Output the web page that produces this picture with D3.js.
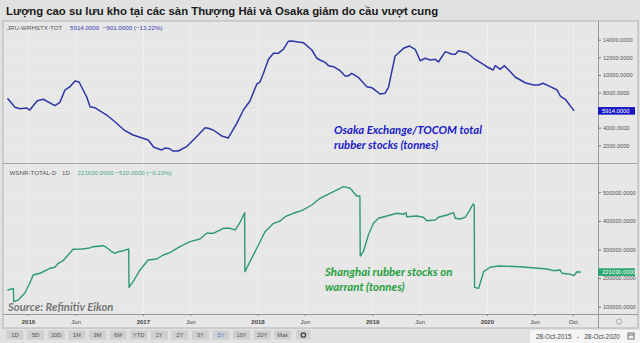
<!DOCTYPE html>
<html><head><meta charset="utf-8">
<script src="https://cdn.jsdelivr.net/npm/d3@7"></script>
<style>
html,body{margin:0;padding:0;background:#e1e1e1;}
svg{display:block;font-family:"Liberation Sans",Arial,sans-serif;}
</style></head><body>
<svg id="chart" width="640" height="343"></svg>
<script>
// Osaka Exchange / TOCOM total rubber stocks (tonnes)
const osakaDates = ["2015-10-28","2015-11-21","2015-12-07","2015-12-28","2016-01-07","2016-01-31","2016-02-19","2016-03-27","2016-04-12","2016-04-28","2016-05-14","2016-05-30","2016-06-12","2016-07-06","2016-07-17","2016-08-01","2016-09-08","2016-10-04","2016-11-05","2016-12-01","2017-01-18","2017-02-05","2017-03-02","2017-03-12","2017-03-28","2017-04-06","2017-04-24","2017-05-20","2017-06-21","2017-07-18","2017-07-28","2017-08-13","2017-09-09","2017-09-30","2017-10-27","2017-11-17","2017-12-08","2017-12-30","2018-01-09","2018-01-20","2018-02-05","2018-02-21","2018-03-08","2018-03-24","2018-04-09","2018-04-20","2018-05-27","2018-06-23","2018-07-09","2018-07-19","2018-08-04","2018-08-15","2018-08-31","2018-09-21","2018-10-07","2018-10-17","2018-10-28","2018-11-18","2018-12-15","2018-12-31","2019-01-10","2019-01-26","2019-02-11","2019-02-22","2019-03-15","2019-04-11","2019-04-30","2019-05-18","2019-06-03","2019-06-19","2019-07-05","2019-07-21","2019-07-31","2019-08-22","2019-09-12","2019-09-23","2019-10-03","2019-10-30","2019-11-20","2019-12-11","2020-01-01","2020-01-21","2020-01-28","2020-02-13","2020-02-26","2020-03-16","2020-04-01","2020-04-17","2020-05-02","2020-05-29","2020-06-14","2020-06-28","2020-07-21","2020-08-12","2020-08-22","2020-09-07","2020-10-05"];
const osakaValues = [7340,6320,6160,6240,6010,7070,7230,6500,6890,8280,8660,9310,9190,7520,6390,6270,5440,4680,3660,3170,2600,1770,1470,1690,1610,1350,1350,1840,2980,4000,3930,3740,3060,2830,4500,6010,7030,8970,9190,10180,11770,12450,12450,12910,13820,13850,13660,12830,11890,11690,11430,11050,10930,10480,9880,9880,10180,9730,8660,8550,8280,7830,7910,8590,12150,13020,13280,12910,11610,11890,11690,11770,11470,12640,12340,12340,12750,12520,11890,11430,10930,10560,11050,10640,11050,10360,9730,9420,9110,8850,8850,9050,8660,8280,7600,7230,5914];

// Shanghai rubber stocks on warrant (tonnes)
const shanghaiDates = ["2015-10-28","2015-11-13","2015-11-16","2015-11-17","2015-12-01","2015-12-22","2016-01-07","2016-01-18","2016-02-08","2016-03-01","2016-03-11","2016-03-27","2016-04-07","2016-04-22","2016-05-08","2016-05-24","2016-06-20","2016-07-11","2016-07-27","2016-08-28","2016-09-08","2016-09-24","2016-10-04","2016-10-15","2016-10-31","2016-11-17","2016-11-18","2016-12-01","2016-12-23","2017-01-18","2017-02-14","2017-03-07","2017-03-28","2017-04-29","2017-05-31","2017-07-02","2017-07-23","2017-08-13","2017-09-14","2017-10-06","2017-10-22","2017-11-06","2017-11-21","2017-11-22","2017-12-08","2018-01-04","2018-01-25","2018-02-21","2018-03-14","2018-03-30","2018-04-25","2018-05-22","2018-06-23","2018-07-19","2018-08-31","2018-10-02","2018-10-23","2018-11-13","2018-11-23","2018-11-24","2018-12-04","2018-12-20","2019-01-05","2019-01-21","2019-02-17","2019-03-21","2019-04-11","2019-04-19","2019-04-21","2019-05-23","2019-06-13","2019-06-24","2019-07-21","2019-07-31","2019-08-27","2019-09-17","2019-09-23","2019-10-08","2019-10-24","2019-11-07","2019-11-18","2019-11-22","2019-11-23","2019-12-06","2019-12-22","2020-01-12","2020-02-07","2020-04-17","2020-07-11","2020-08-01","2020-08-22","2020-08-27","2020-09-23","2020-10-04","2020-10-14","2020-10-27"];
const shanghaiValues = [158400,162900,162900,117500,123400,146900,181800,210800,216800,228300,234300,237800,251800,260800,280800,300700,301800,304200,309800,313300,306300,292300,286700,292300,295800,301800,167800,187400,228300,263300,266800,280800,288800,309800,327300,336700,356600,356600,374100,374100,368200,393700,428700,222400,257400,315700,362200,391600,399700,414700,426600,435700,455600,479000,502100,519600,514000,487100,487100,277300,292300,350700,391600,409100,417100,426600,423100,428700,414700,417100,412600,400700,403100,412600,420600,428700,409100,406700,412600,435700,459100,455600,167800,164300,222400,237800,242300,239900,231800,225900,228300,216800,213300,208400,222400,221030];

// Axis ticks
const osakaTicks = [2000,4000,6000,8000,10000,12000,14000];
const shanghaiTicks = [100000,200000,300000,400000,500000];
const xTickDates = ["2016-01-01","2016-06-01","2017-01-01","2017-06-01","2018-01-01","2018-06-01","2019-01-01","2019-06-01","2020-01-01","2020-06-01","2020-10-01"];
const rangeButtons = ["1D","5D","10D","1M","3M","6M","YTD","1Y","2Y","3Y","5Y","10Y","20Y","Max"];

const title = "Lượng cao su lưu kho tại các sàn Thượng Hải và Osaka giảm do cầu vượt cung";
const osakaHeader = {code:"JRU-WRHSTX-TOT", quote:"5914.0000  \u2212901.0000 (\u221213.22%)"};
const shanghaiHeader = {code:"WSNR-TOTAL-D", freq:"1D", quote:"221030.0000  \u2212510.0000 (\u22120.23%)"};

const parse = d3.timeParse("%Y-%m-%d");
const osaka = osakaDates.map((d,i)=>({date:parse(d), value:osakaValues[i]}));
const shanghai = shanghaiDates.map((d,i)=>({date:parse(d), value:shanghaiValues[i]}));

const svg = d3.select("#chart");
const W = 640, H = 343;
const left = 3, axisX = 598;
const top1 = 21, sep = 163, bottom2 = 314, axisRowBottom = 328;

// backgrounds
svg.append("rect").attr("width",W).attr("height",H).attr("fill","#e1e1e1");
svg.append("rect").attr("x",left).attr("y",top1).attr("width",W-left-2).attr("height",axisRowBottom-top1)
  .attr("fill","#e7e7e7").attr("stroke","#b4b4b4").attr("stroke-width",1);

const x = d3.scaleTime().domain([parse("2015-10-17"), parse("2020-12-20")]).range([4, axisX]);
const yTop = d3.scaleLinear().domain([2000,14000]).range([145.3,39.7]);
const yBot = d3.scaleLinear().domain([100000,500000]).range([306.7,192.3]);

// faint grid
const grid = svg.append("g").attr("stroke","#efefef").attr("stroke-width",1);
xTickDates.forEach(d=>{
  const gx = Math.round(x(parse(d)))+0.5;
  grid.append("line").attr("x1",gx).attr("x2",gx).attr("y1",top1+1).attr("y2",bottom2);
});
osakaTicks.forEach(v=>{
  const gy = Math.round(yTop(v))+0.5;
  grid.append("line").attr("x1",left+1).attr("x2",axisX).attr("y1",gy).attr("y2",gy).attr("stroke","#ebebeb");
});
shanghaiTicks.forEach(v=>{
  const gy = Math.round(yBot(v))+0.5;
  grid.append("line").attr("x1",left+1).attr("x2",axisX).attr("y1",gy).attr("y2",gy).attr("stroke","#ebebeb");
});

// pane separators and axis lines
svg.append("line").attr("x1",left).attr("x2",W-2).attr("y1",sep+0.5).attr("y2",sep+0.5).attr("stroke","#a8a8a8");
svg.append("line").attr("x1",left).attr("x2",W-2).attr("y1",bottom2+0.5).attr("y2",bottom2+0.5).attr("stroke","#9a9a9a");
svg.append("line").attr("x1",axisX+0.5).attr("x2",axisX+0.5).attr("y1",top1).attr("y2",axisRowBottom).attr("stroke","#9a9a9a");

// clip paths
const defs = svg.append("defs");
defs.append("clipPath").attr("id","clipTop").append("rect").attr("x",left).attr("y",top1).attr("width",axisX-left).attr("height",sep-top1);
defs.append("clipPath").attr("id","clipBot").append("rect").attr("x",left).attr("y",sep).attr("width",axisX-left).attr("height",bottom2-sep);

// series lines
svg.append("path").datum(osaka).attr("clip-path","url(#clipTop)")
  .attr("fill","none").attr("stroke","#2c36a6").attr("stroke-width",1.5).attr("stroke-linejoin","round")
  .attr("d", d3.line().x(d=>x(d.date)).y(d=>yTop(d.value)));
svg.append("path").datum(shanghai).attr("clip-path","url(#clipBot)")
  .attr("fill","none").attr("stroke","#2e9a72").attr("stroke-width",1.4).attr("stroke-linejoin","round")
  .attr("d", d3.line().x(d=>x(d.date)).y(d=>yBot(d.value)));

// right y axes
function styleAxis(g){
  g.select(".domain").remove();
  g.selectAll(".tick line").attr("stroke","#777");
  g.selectAll(".tick text").attr("fill","#555").attr("font-size","5.6px").attr("font-family","Liberation Sans, Arial, sans-serif");
}
svg.append("g").attr("transform",`translate(${axisX},0)`)
  .call(d3.axisRight(yTop).tickValues(osakaTicks).tickFormat(d=>d.toFixed(4)).tickSize(3).tickPadding(2))
  .call(styleAxis);
svg.append("g").attr("transform",`translate(${axisX},0)`)
  .call(d3.axisRight(yBot).tickValues(shanghaiTicks).tickFormat(d=>d.toFixed(4)).tickSize(3).tickPadding(2))
  .call(styleAxis);

// last-value tags
function tag(yPos, fill, label){
  svg.append("rect").attr("x",axisX).attr("y",yPos-3.8).attr("width",37).attr("height",7.6).attr("fill",fill);
  svg.append("text").attr("x",axisX+4).attr("y",yPos+2).attr("fill","#fff").attr("font-size","5.8px").text(label);
}
const lastO = osaka[osaka.length-1], lastS = shanghai[shanghai.length-1];
tag(yTop(lastO.value), "#1616c4", lastO.value.toFixed(4));
tag(yBot(lastS.value), "#27a66e", lastS.value.toFixed(4));

// x axis
const xg = svg.append("g").attr("transform",`translate(0,${bottom2})`)
  .call(d3.axisBottom(x).tickValues(xTickDates.map(parse))
    .tickFormat(d=> d.getMonth()===0 ? d3.timeFormat("%Y")(d) : d3.timeFormat("%b")(d))
    .tickSize(2).tickPadding(4));
xg.select(".domain").remove();
xg.selectAll(".tick line").attr("stroke","#888");
xg.selectAll(".tick text").attr("fill","#444").attr("font-size","6px")
  .attr("font-weight",d=> d.getMonth()===0 ? "bold" : "normal");

// gear under the axis
svg.append("circle").attr("cx",619).attr("cy",321.5).attr("r",2.6).attr("fill","none").attr("stroke","#a0a0a0").attr("stroke-width",0.9);

// header lines
const h1 = svg.append("text").attr("y",29.5).attr("font-size","6.2px");
h1.append("tspan").attr("x",7).attr("fill","#555").text(osakaHeader.code);
h1.append("tspan").attr("x",70).attr("fill","#3a3ab0").attr("xml:space","preserve").text(osakaHeader.quote);
const h2 = svg.append("text").attr("y",174.5).attr("font-size","6.2px");
h2.append("tspan").attr("x",9.5).attr("fill","#555").text(shanghaiHeader.code);
h2.append("tspan").attr("x",62).attr("fill","#555").text(shanghaiHeader.freq);
h2.append("tspan").attr("x",77.5).attr("fill","#4aa882").text(shanghaiHeader.quote);

// title
svg.append("text").attr("x",6).attr("y",15).attr("font-size","11.35px").attr("font-weight","bold")
  .attr("fill","#1a1a1a").text(title);

// annotations
const annFont = "Lato, 'Open Sans', sans-serif";
function ann(xp, yp, lines, color, size){
  const t = svg.append("text").attr("font-family",annFont).attr("font-style","italic").attr("font-weight","bold")
    .attr("font-size",size+"px").attr("fill",color);
  lines.forEach((l,i)=>t.append("tspan").attr("x",xp).attr("y",yp+i*15.6).text(l));
}
ann(334, 133.5, ["Osaka Exchange/TOCOM total","rubber stocks (tonnes)"], "#1c1cc6", 11.3);
ann(325, 275.5, ["Shanghai rubber stocks on","warrant (tonnes)"], "#25a040", 11.5);
svg.append("text").attr("x",8).attr("y",310.5).attr("font-family",annFont).attr("font-style","italic")
  .attr("font-weight","bold").attr("font-size","11.3px").attr("fill","#767676").text("Source: Refinitiv Eikon");

// range buttons
const btn = svg.append("g");
rangeButtons.forEach((b,i)=>{
  const cx = 15 + i*20.6;
  btn.append("rect").attr("x",cx-8.5).attr("y",330.5).attr("width",17).attr("height",9).attr("fill","#cfcfcf");
  btn.append("text").attr("x",cx).attr("y",337.4).attr("text-anchor","middle").attr("font-size","5.8px")
    .attr("fill", b==="5Y" ? "#3a7fd0" : "#555").text(b);
});
const gcx = 15 + rangeButtons.length*20.6;
btn.append("rect").attr("x",gcx-7).attr("y",330.5).attr("width",14).attr("height",9).attr("fill","#cfcfcf");
btn.append("circle").attr("cx",gcx).attr("cy",335).attr("r",2.2).attr("fill","none").attr("stroke","#444").attr("stroke-width",1.3);

// date range box
svg.append("rect").attr("x",530).attr("y",330).attr("width",110).attr("height",13).attr("fill","#f4f4f4");
svg.append("text").attr("x",536).attr("y",339).attr("font-size","6.4px").attr("fill","#444")
  .attr("xml:space","preserve").text("28-Oct-2015   -   28-Oct-2020");
svg.append("rect").attr("x",628).attr("y",333).attr("width",6).attr("height",6).attr("fill","none").attr("stroke","#555").attr("stroke-width",0.8);
svg.append("line").attr("x1",628).attr("x2",634).attr("y1",335).attr("y2",335).attr("stroke","#555").attr("stroke-width",0.8);
</script>
</body></html>
